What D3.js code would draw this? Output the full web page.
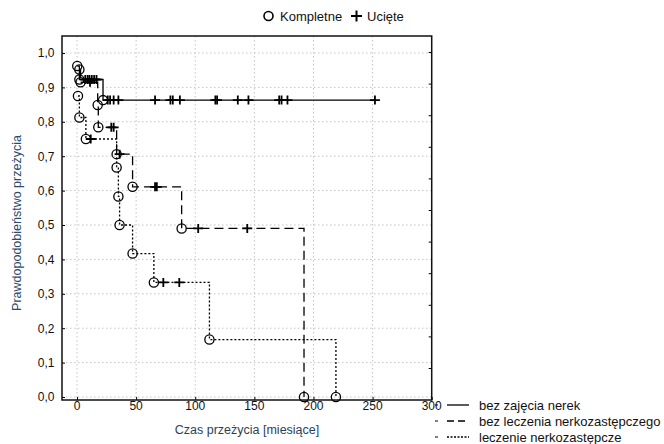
<!DOCTYPE html>
<html><head><meta charset="utf-8">
<script src="https://cdn.jsdelivr.net/npm/d3@7/dist/d3.min.js"></script>
<style>body{margin:0;background:#fff}svg{display:block}text{font-family:"Liberation Sans",Arial,sans-serif}</style>
</head><body><svg id="c" width="664" height="444"></svg>
<script>
// ---- data ----
const xTicks = [0, 50, 100, 150, 200, 250, 300];
const yTicks = [0, 0.1, 0.2, 0.3, 0.4, 0.5, 0.6, 0.7, 0.8, 0.9, 1.0];
const seriesNames = ["bez zajęcia nerek", "bez leczenia nerkozastępczego", "leczenie nerkozastępcze"];
// event (complete) times and survival after event
const solidEvents = [[0.2, 0.962], [2, 0.923], [22, 0.863]];
const solidCensored = [[7, 0.923], [9, 0.923], [10.5, 0.923], [12.5, 0.923], [14.5, 0.923], [16.5, 0.923],
  [26, 0.863], [28, 0.863], [31, 0.863], [35, 0.863], [66, 0.863], [79, 0.863], [81, 0.863], [87, 0.863],
  [117, 0.863], [118.5, 0.863], [136, 0.863], [145, 0.863], [171, 0.863], [173, 0.863], [178, 0.863], [252, 0.863]];
const solidEnd = 253;
const dashedEvents = [[2, 0.952], [3, 0.915], [17.5, 0.849], [18, 0.784], [33.5, 0.706], [47, 0.611], [88.5, 0.49], [192, 0]];
const dashedCensored = [[11, 0.915], [29, 0.784], [31, 0.784], [36, 0.706], [66, 0.611], [67.5, 0.611], [102.5, 0.49], [144, 0.49]];
const dashedEnd = 192;
const dottedEvents = [[0.8, 0.875], [2, 0.8125], [7.5, 0.75], [33.5, 0.667], [35, 0.583], [36, 0.5],
  [47, 0.417], [65, 0.333], [112, 0.167], [219, 0]];
const dottedCensored = [[11.6, 0.75], [73, 0.333], [86.5, 0.333]];
const dottedEnd = 219;

// ---- layout ----
const svg = d3.select("#c");
const M = {l: 62, r: 232.3, t: 36, b: 44};
const W = 664 - M.l - M.r, H = 444 - M.t - M.b;
const x = d3.scaleLinear().domain([-12.7, 300]).range([M.l, M.l + W]);
const y = d3.scaleLinear().domain([-0.0087, 1.0494]).range([M.t + H, M.t]);

// grid
const g = svg.append("g");
g.selectAll(".gx").data(xTicks).enter().append("line")
  .attr("x1", d => x(d)).attr("x2", d => x(d)).attr("y1", M.t).attr("y2", M.t + H)
  .attr("stroke", "#c4c4c4").attr("stroke-width", 1).attr("stroke-dasharray", "1.5,2.5");
g.selectAll(".gy").data(yTicks).enter().append("line")
  .attr("x1", M.l).attr("x2", M.l + W).attr("y1", d => y(d)).attr("y2", d => y(d))
  .attr("stroke", "#c4c4c4").attr("stroke-width", 1).attr("stroke-dasharray", "1.5,2.5");

// axes (inward ticks)
const xAxis = d3.axisBottom(x).tickValues(xTicks).tickSize(-3).tickFormat("");
const yAxis = d3.axisLeft(y).tickValues(yTicks).tickSize(-3).tickFormat("");
svg.append("g").attr("transform", `translate(0,${M.t + H})`).call(xAxis)
  .call(s => s.select(".domain").remove()).selectAll("line").attr("stroke", "#000");
svg.append("g").attr("transform", `translate(${M.l},0)`).call(yAxis)
  .call(s => s.select(".domain").remove()).selectAll("line").attr("stroke", "#000");
// right-side ticks (as in reference, separate spacing)
const yR = d3.scaleLinear().domain([0, 10]).range([368, 52]);
svg.append("g").attr("transform", `translate(${M.l + W},0)`).call(d3.axisRight(yR).ticks(10).tickSize(-3).tickFormat(""))
  .call(s => s.select(".domain").remove()).selectAll("line").attr("stroke", "#000");

// tick labels
svg.selectAll(".xl").data(xTicks).enter().append("text")
  .attr("x", d => x(d)).attr("y", 410).attr("text-anchor", "middle")
  .attr("font-size", 12).attr("fill", "#111").text(d => d);
svg.selectAll(".yl").data(yTicks).enter().append("text")
  .attr("x", 54.5).attr("y", d => y(d)).attr("dy", "0.36em").attr("text-anchor", "end")
  .attr("font-size", 12).attr("fill", "#111").text(d => d3.format(".1f")(d).replace(".", ","));

// frame
svg.append("rect").attr("x", M.l).attr("y", M.t).attr("width", W).attr("height", H)
  .attr("fill", "none").attr("stroke", "#111").attr("stroke-width", 1.5);

// titles
svg.append("text").attr("x", 247).attr("y", 434).attr("text-anchor", "middle")
  .attr("font-size", 12.5).attr("fill", "#2b3f55").text("Czas przeżycia [miesiące]");
svg.append("text").attr("transform", "translate(21,223) rotate(-90)").attr("text-anchor", "middle")
  .attr("font-size", 12.5).attr("fill", "#2b4a6a").text("Prawdopodobieństwo przeżycia");

// curves
const line = d3.line().x(d => x(d[0])).y(d => y(d[1])).curve(d3.curveStepAfter);
function curve(events, end, dash, sw) {
  const last = events[events.length - 1];
  const pts = events.slice();
  if (end > last[0]) pts.push([end, last[1]]);
  svg.append("path").attr("d", line(pts)).attr("fill", "none").attr("stroke", "#000")
    .attr("stroke-width", sw).attr("stroke-dasharray", dash);
}
curve(solidEvents, solidEnd, null, 1.3);
curve(dashedEvents, dashedEnd, "9,5", 1.3);
curve(dottedEvents, dottedEnd, "2,2", 1.3);

function circles(data) {
  svg.append("g").selectAll("circle").data(data).enter().append("circle")
    .attr("cx", d => x(d[0])).attr("cy", d => y(d[1])).attr("r", 4.6)
    .attr("fill", "none").attr("stroke", "#000").attr("stroke-width", 1.3);
}
function pluses(data) {
  svg.append("g").selectAll("path").data(data).enter().append("path")
    .attr("d", d => { const cx = x(d[0]), cy = y(d[1]); return `M${cx - 5},${cy}H${cx + 5}M${cx},${cy - 4.5}V${cy + 4.5}`; })
    .attr("stroke", "#000").attr("stroke-width", 1.8).attr("fill", "none");
}
circles(solidEvents); circles(dashedEvents); circles(dottedEvents);
pluses(solidCensored); pluses(dashedCensored); pluses(dottedCensored);

// top legend
svg.append("circle").attr("cx", 268.5).attr("cy", 16).attr("r", 4.5).attr("fill", "none").attr("stroke", "#000").attr("stroke-width", 1.6);
svg.append("text").attr("x", 280).attr("y", 16).attr("dy", "0.36em").attr("font-size", 13).attr("fill", "#111").text("Kompletne");
svg.append("path").attr("d", "M351,16H362M356.5,10.5V21.5").attr("stroke", "#000").attr("stroke-width", 2);
svg.append("text").attr("x", 367).attr("y", 16).attr("dy", "0.36em").attr("font-size", 13).attr("fill", "#111").text("Ucięte");

// bottom-right legend
const dashes = [null, "7,4", "2,1.5"];
const rowsY = [405, 421, 437];
const lg = svg.append("g");
seriesNames.forEach((nm, i) => {
  lg.append("line").attr("x1", 447).attr("x2", 469).attr("y1", rowsY[i]).attr("y2", rowsY[i])
    .attr("stroke", "#000").attr("stroke-width", 1.3).attr("stroke-dasharray", dashes[i]);
  lg.append("line").attr("x1", 435).attr("x2", 438).attr("y1", rowsY[i]).attr("y2", rowsY[i])
    .attr("stroke", "#000").attr("stroke-width", 1);
  lg.append("text").attr("x", 479).attr("y", rowsY[i]).attr("dy", "0.36em").attr("font-size", 13)
    .attr("fill", "#111").text(nm);
});
</script></body></html>
